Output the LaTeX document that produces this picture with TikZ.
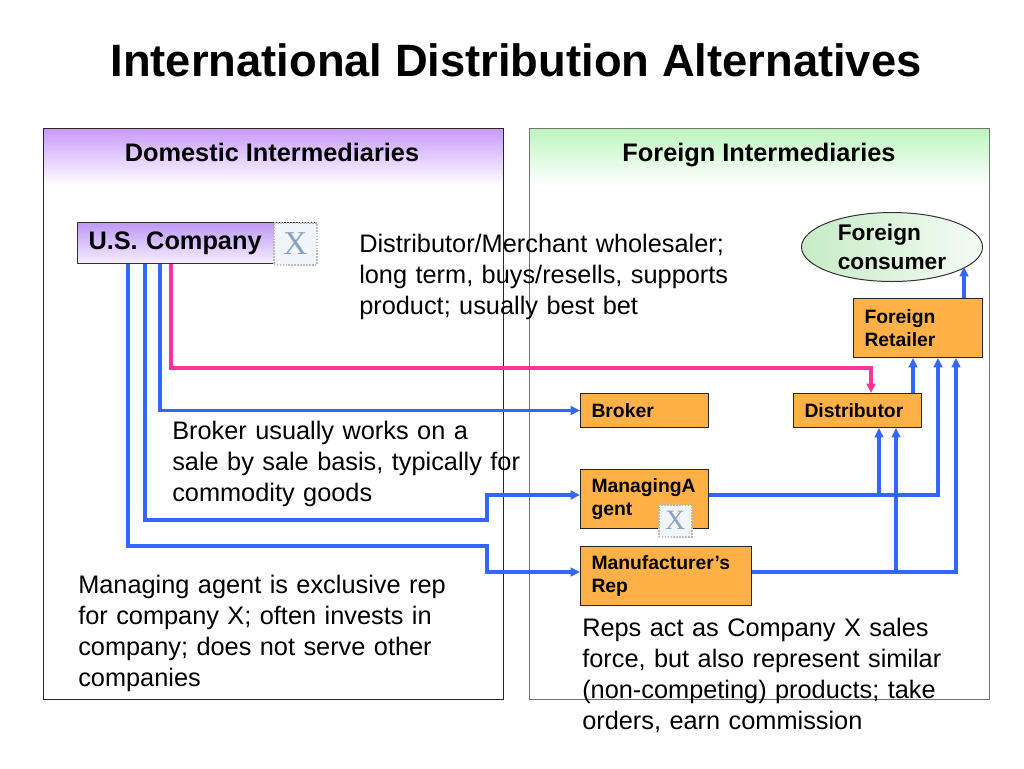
\documentclass[tikz,border=0pt]{standalone}
\usepackage{fontspec}
\setmainfont{Liberation Sans}
\newfontfamily\xserif{Liberation Serif}
\usetikzlibrary{arrows.meta,shapes.geometric}
\definecolor{lnblue}{HTML}{3366FF}
\definecolor{lnpink}{HTML}{FF3399}
\definecolor{boxor}{HTML}{FFB148}
\definecolor{purp}{HTML}{C99BFF}
\definecolor{grn}{HTML}{BDF5BD}
\definecolor{xblue}{HTML}{86A3C6}
\definecolor{usTop}{HTML}{BE98F5}
\definecolor{usBot}{HTML}{F5EEFF}
\definecolor{fcL}{HTML}{C6EBC6}
\definecolor{fcR}{HTML}{F4FCF4}
\definecolor{xfill}{HTML}{F1F5FA}
\begin{document}
\begin{tikzpicture}[x=0.75pt,y=-0.75pt,
  bl/.style={draw=lnblue,line width=2.4pt,-{Triangle[length=7pt,width=6.5pt]}},
  pk/.style={draw=lnpink,line width=2.4pt,-{Triangle[length=7pt,width=6.5pt]}},
  obox/.style={draw=black!85,line width=0.75pt,fill=boxor,anchor=north west,
    font=\bfseries\fontsize{14.5}{17.5}\selectfont,align=left,
    inner xsep=8.25pt,inner ysep=0pt},
  body/.style={anchor=base west,inner sep=0pt,align=left,text width=300pt,
    font=\fontsize{19}{23.25}\selectfont},
  hdr/.style={anchor=base,inner sep=0pt,font=\bfseries\fontsize{19}{23}\selectfont},
  xicon/.style={draw=gray!55,densely dotted,line width=1.2pt,fill=xfill,anchor=north west,
    inner sep=0pt,text=xblue},
  panel/.style={line width=0.75pt}
]
\useasboundingbox (0,0) rectangle (1024,768);
% title
\node[anchor=base,inner sep=0pt,font=\bfseries\fontsize{34}{40}\selectfont] (title) at (516,76) {International Distribution Alternatives};
% panels
\fill[top color=purp,bottom color=white] (43,129) rectangle (503,186);
\draw[panel,draw=black!85] (43,128) rectangle (503,699);
\fill[top color=grn,bottom color=white] (529,129) rectangle (989,186);
\draw[panel,draw=black!55] (529,128) rectangle (989,699);
\node[hdr] (dh) at (272,161) {Domestic Intermediaries};
\node[hdr] (fh) at (759,161) {Foreign Intermediaries};
% US company
\node[draw=black!80,line width=0.75pt,top color=usTop,bottom color=usBot,anchor=north west,
  minimum width=179.25pt,minimum height=30.75pt,text width=162.75pt,inner xsep=8.25pt,inner ysep=0pt,
  align=left,font=\bfseries\fontsize{19}{23}\selectfont] (us) at (77,222) {U.S. Company};
\node[xicon,minimum width=32.25pt,minimum height=31.5pt,font=\xserif\fontsize{25}{25}\selectfont] (usx) at (273,222) {X};
% texts
\node[body] (t1) at (359,252) {Distributor/Merchant wholesaler;\\long term, buys/resells, supports\\product; usually best bet};
\node[body] (t2) at (172,439) {Broker usually works on a\\sale by sale basis, typically for\\commodity goods};
\node[body] (t3) at (78,593) {Managing agent is exclusive rep\\for company X; often invests in\\company; does not serve other\\companies};
\node[body] (t4) at (582,636) {Reps act as Company X sales\\force, but also represent similar\\(non-competing) products; take\\orders, earn commission};
% foreign consumer
\node[ellipse,draw=black!80,line width=0.75pt,left color=fcL,right color=fcR,
  minimum width=135.75pt,minimum height=51.75pt,inner sep=0pt,align=left,
  font=\bfseries\fontsize{17}{21.75}\selectfont] (fc) at (892,247) {Foreign\\consumer};
\coordinate (fcin) at (964,267);
% boxes
\node[obox,minimum width=96.75pt,minimum height=44.25pt,text width=80.25pt] (ret) at (853,298) {Foreign\\Retailer};
\node[obox,minimum width=96pt,minimum height=25.5pt,text width=79.5pt] (dist) at (793,393) {Distributor};
\node[obox,minimum width=96pt,minimum height=25.5pt,text width=79.5pt] (broker) at (580,393) {Broker};
\node[obox,minimum width=96pt,minimum height=44.25pt,text width=79.5pt] (magent) at (580,469) {ManagingA\\gent};
\node[obox,minimum width=128.25pt,minimum height=44.25pt,text width=111.75pt] (mrep) at (580,546) {Manufacturer’s\\Rep};
\node[xicon,minimum width=24.75pt,minimum height=24pt,font=\xserif\fontsize{21}{21}\selectfont] (magx) at (658,504) {X};
% connectors
\coordinate (j1) at (879,495);
\coordinate (j2) at (896,572);
\draw[bl] (128,0 |- us.south) -- (128,546) -- (487,546) -- (487,572) -- (mrep.west |- 0,572);
\draw[bl] (145,0 |- us.south) -- (145,520) -- (487,520) -- (487,495) -- (magent.west |- 0,495);
\draw[bl] (160,0 |- us.south) |- (broker.west);
\draw[pk] (171,0 |- us.south) -- (171,368) -- (871,368) -- (871,0 |- dist.north);
\draw[bl] (magent.east |- 0,495) -- (938,495) -- (938,0 |- ret.south);
\draw[bl] (j1) -- (879,0 |- dist.south);
\draw[bl] (mrep.east |- 0,572) -- (956,572) -- (956,0 |- ret.south);
\draw[bl] (j2) -- (896,0 |- dist.south);
\draw[bl] (913,0 |- dist.north) -- (913,0 |- ret.south);
\draw[bl] (964,0 |- ret.north) -- (fcin);
\end{tikzpicture}
\end{document}
